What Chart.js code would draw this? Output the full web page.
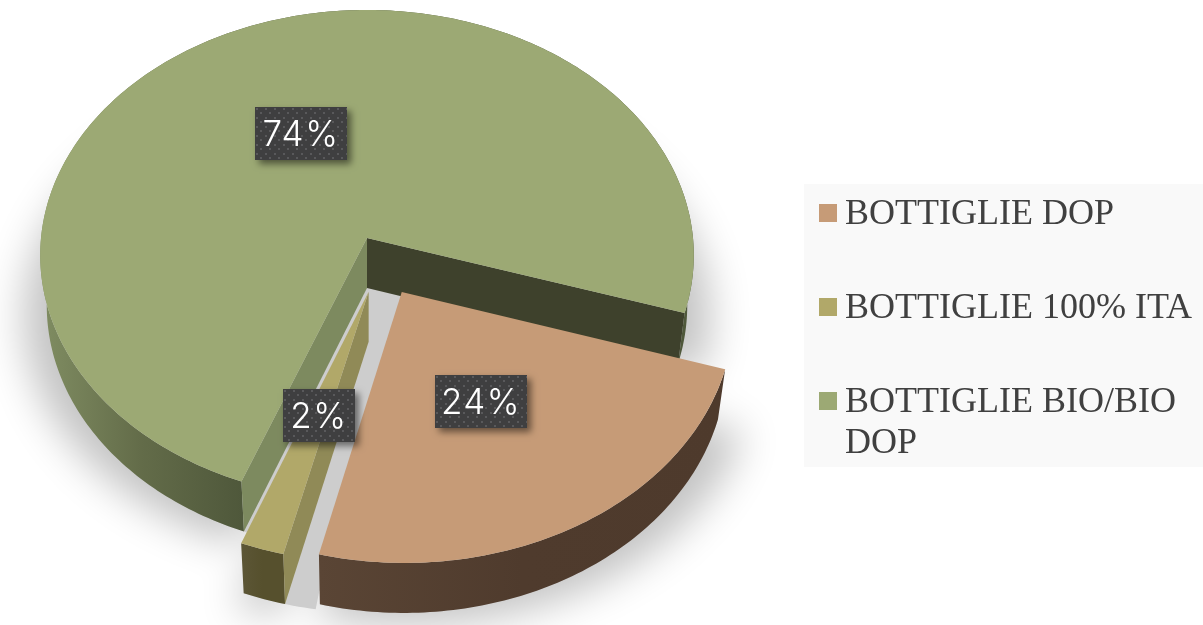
<!DOCTYPE html>
<html>
<head>
<meta charset="utf-8">
<style>
  html, body { margin: 0; background: #fff; }
  canvas { display: block; }
</style>
<script src="https://cdn.jsdelivr.net/npm/chart.js@4"></script>
</head>
<body>
<canvas id="chart" width="1203" height="625"></canvas>
<script>
const categories = ["BOTTIGLIE DOP", "BOTTIGLIE 100% ITA", ["BOTTIGLIE BIO/BIO", "DOP"]];
const shares = [24, 2, 74];
const sliceColors = ["#c69b77", "#b1a869", "#9ca974"];

// look of the tilted pie, everything in units of the pie radius
const shiftU = [0.105, 0.005, 0];
const shiftV = [0.218, 0.217, 0];
const labelAt = [0.48, 0.5, 0.49];
const labelNudgeX = [-2, 2, 1];
const labelNudgeY = [1, 0, 0];
const wallOuter = [["#5a4535", "#4f3b2d", "#4e3a2c"], ["#5c5636", "#56502d", "#56502d"], ["#808d62", "#636c49", "#4f583b"]];
const wallStart = ["#4f3b2d", "#908a57", "#7d8a5f"];
const wallEnd = ["#4f3b2d", "#56502d", "#3e412c"];
const view = { x0: 367, y0: 238, a: 326, b: 244, persp: 0.07, depth: 50, shrink: 0.98 };

const project = (u, v) => {
  const w = 1 / (1 - view.persp * v);
  return [view.x0 + u * w * view.a, view.y0 + v * w * view.b];
};
const lower = ([x, y]) => [view.x0 + (x - view.x0) * view.shrink, y + view.depth];
const castShadow = ([x, y]) => [view.x0 + (x - view.x0) * 1.05 - 3000, y + view.depth + 12];

function rimPoints(i, a0, a1, k = 1) {
  const pts = [];
  const n = Math.max(4, Math.round((a1 - a0) * 60));
  for (let s = 0; s <= n; s++) {
    const t = a0 + ((a1 - a0) * s) / n;
    pts.push(project(shiftU[i] * k + Math.cos(t), shiftV[i] * k + Math.sin(t)));
  }
  return pts;
}

function addPath(ctx, pts) {
  pts.forEach(([x, y], n) => (n ? ctx.lineTo(x, y) : ctx.moveTo(x, y)));
  ctx.closePath();
}

function makeDots() {
  const c = document.createElement("canvas");
  c.width = c.height = 9;
  const g = c.getContext("2d");
  g.fillStyle = "#3f3f40";
  g.fillRect(0, 0, 9, 9);
  g.fillStyle = "#59595b";
  g.fillRect(1, 1, 2, 2);
  g.fillRect(5, 5, 2, 2);
  return c;
}

function makeSwatch(color) {
  // the legend centres this image on its 1px wide box, so pad it on the left and below
  const c = document.createElement("canvas");
  c.width = 21;
  c.height = 22;
  const g = c.getContext("2d");
  g.fillStyle = color;
  g.fillRect(3, 0, 18, 18);
  return c;
}
const swatches = sliceColors.map(makeSwatch);

const legendPlace = {
  id: "legendPlace",
  beforeDraw(chart) {
    const ctx = chart.ctx;
    ctx.fillStyle = "#f9f9f9";
    ctx.fillRect(804, 184, 399, 283);
  },
  afterLayout(chart) {
    const lg = chart.legend;
    const w = lg.width, h = lg.height;
    lg.left = 826 - lg.options.labels.padding;
    lg.right = lg.left + w + 200;
    lg.top = 197 - lg.options.labels.padding;
    lg.bottom = lg.top + h + 100;
  },
};

const pie3d = {
  id: "pie3d",
  beforeDatasetsDraw(chart) {
    const ctx = chart.ctx;
    const arcs = chart.getDatasetMeta(0).data;

    // soft ground shadow: the shape itself stays off canvas
    ctx.save();
    ctx.shadowColor = "rgba(0,0,0,0.24)";
    ctx.shadowBlur = 40;
    ctx.shadowOffsetX = 3000;
    ctx.fillStyle = "#000";
    ctx.beginPath();
    arcs.forEach((arc, i) => {
      const apex = project(shiftU[i], shiftV[i]);
      addPath(ctx, [apex, ...rimPoints(i, arc.startAngle, arc.endAngle)].map(castShadow));
    });
    ctx.fill();
    ctx.restore();

    // the grey showing through the gaps
    ctx.fillStyle = "#cdcdcd";
    ctx.beginPath();
    arcs.forEach((arc, i) => {
      const extra = i === 1 ? 0.09 : 0;
      for (const k of [0, 0.25, 0.5, 0.75, 1]) {
        const apex = project(shiftU[i] * k, shiftV[i] * k);
        addPath(ctx, [apex, ...rimPoints(i, arc.startAngle - extra, arc.endAngle, k)].map(lower));
      }
    });
    ctx.fill();

    // far slice first so the exploded ones sit on top of its walls
    [2, 1, 0].forEach((i) => {
      const arc = arcs[i];
      const a0 = arc.startAngle, a1 = arc.endAngle;
      const rim = rimPoints(i, a0, a1);
      const apex = project(shiftU[i], shiftV[i]);

      const xFrom = rim.reduce((m, p) => Math.min(m, p[0]), 1e4);
      const xTo = rim.reduce((m, p) => (p[1] > 340 ? Math.max(m, p[0]) : m), 0);
      const grad = ctx.createLinearGradient(xFrom, 0, xTo, 0);
      wallOuter[i].forEach((c, n) => grad.addColorStop(n / 2, c));
      ctx.fillStyle = grad;
      ctx.beginPath();
      addPath(ctx, [...rim, ...rim.map(lower).reverse()]);
      ctx.fill();

      const wall = (edge, color) => {
        ctx.fillStyle = color;
        ctx.beginPath();
        addPath(ctx, [apex, edge, lower(edge), lower(apex)]);
        ctx.fill();
      };
      if (-Math.cos(a0) > 0) wall(rim[0], wallStart[i]);
      if (Math.cos(a1) > 0) wall(rim[rim.length - 1], wallEnd[i]);

      ctx.fillStyle = sliceColors[i];
      ctx.beginPath();
      addPath(ctx, [apex, ...rim]);
      ctx.fill();
    });

    // percent labels on dark dotted plates
    const dots = ctx.createPattern(makeDots(), "repeat");
    const total = shares.reduce((s, v) => s + v, 0);
    [2, 0, 1].forEach((i) => {
      const arc = arcs[i];
      const mid = (arc.startAngle + arc.endAngle) / 2;
      const [cx, cy] = project(shiftU[i] + labelAt[i] * Math.cos(mid), shiftV[i] + labelAt[i] * Math.sin(mid));
      const text = Math.round((shares[i] / total) * 100) + "%";
      const w = text.length > 2 ? 92 : 72, h = 53;
      const left = Math.round(cx - w / 2) + labelNudgeX[i], top = Math.round(cy - h / 2) + labelNudgeY[i];
      ctx.save();
      ctx.shadowColor = "rgba(0,0,0,0.5)";
      ctx.shadowBlur = 7;
      ctx.shadowOffsetX = 4;
      ctx.shadowOffsetY = 4;
      ctx.fillStyle = "#3f3f40";
      ctx.fillRect(left, top, w, h);
      ctx.restore();
      ctx.save();
      ctx.translate(left, top);
      ctx.fillStyle = dots;
      ctx.fillRect(0, 0, w, h);
      ctx.restore();
      ctx.save();
      ctx.fillStyle = "#ffffff";
      ctx.font = '300 35px "Inter"';
      ctx.letterSpacing = "1.5px";
      ctx.textAlign = "center";
      ctx.textBaseline = "middle";
      ctx.fillText(text, left + w / 2, top + h / 2 + 2);
      ctx.restore();
    });
    return false;
  },
};

new Chart(document.getElementById("chart"), {
  type: "pie",
  data: {
    labels: categories,
    datasets: [{ data: shares, backgroundColor: sliceColors, borderWidth: 0 }],
  },
  options: {
    responsive: false,
    animation: false,
    rotation: 107.5,
    plugins: {
      tooltip: { enabled: false },
      legend: {
        position: "right",
        align: "start",
        onClick: null,
        labels: {
          usePointStyle: true,
          boxWidth: 1,
          boxHeight: 18,
          padding: 58,
          color: "#404040",
          font: { family: '"Liberation Serif"', size: 36, lineHeight: 1.14 },
          generateLabels: () =>
            categories.map((text, i) => ({
              text,
              index: i,
              pointStyle: swatches[i],
              fillStyle: sliceColors[i],
              strokeStyle: sliceColors[i],
              fontColor: "#404040",
              lineWidth: 0,
              hidden: false,
            })),
        },
      },
    },
  },
  plugins: [legendPlace, pie3d],
});
</script>
</body>
</html>
